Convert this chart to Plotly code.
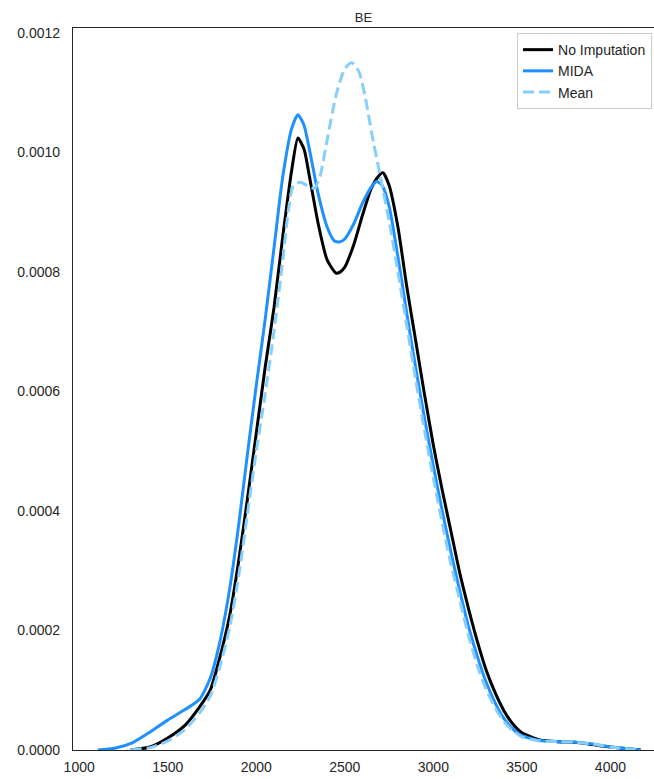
import plotly.graph_objects as go

# ---- data (density values in units of 1e-4) ----
x_none = [1290, 1400, 1500, 1600, 1680, 1740, 1790, 1850, 1900, 1950, 2000, 2050, 2100, 2150, 2200,
          2235, 2270, 2300, 2350, 2400, 2450, 2475, 2500, 2550, 2600, 2650, 2690, 2715, 2750, 2800,
          2850, 2900, 2950, 3000, 3050, 3100, 3150, 3200, 3250, 3300, 3350, 3400, 3450, 3500, 3600,
          3700, 3800, 3900, 4000, 4100, 4170]
y_none = [0, 0.05, 0.2, 0.42, 0.72, 1.0, 1.5, 2.25, 3.15, 4.2, 5.3, 6.4, 7.4, 8.6, 9.7,
          10.24, 10.05, 9.6, 8.8, 8.2, 7.98, 8.0, 8.08, 8.45, 8.95, 9.4, 9.6, 9.66, 9.45, 8.75,
          7.75, 6.85, 5.95, 5.1, 4.35, 3.65, 2.95, 2.35, 1.8, 1.32, 0.95, 0.65, 0.43, 0.29, 0.17,
          0.14, 0.13, 0.09, 0.05, 0.02, 0]

x_mida = [1105, 1200, 1300, 1400, 1500, 1600, 1680, 1740, 1790, 1850, 1900, 1950, 2000, 2050, 2100,
          2150, 2200, 2235, 2270, 2300, 2350, 2400, 2440, 2470, 2500, 2550, 2600, 2650, 2680, 2710,
          2750, 2800, 2850, 2900, 2950, 3000, 3050, 3100, 3150, 3200, 3250, 3300, 3350, 3400, 3450,
          3500, 3600, 3700, 3800, 3900, 4000, 4100, 4170]
y_mida = [0, 0.03, 0.12, 0.3, 0.5, 0.68, 0.85, 1.2, 1.75, 2.7, 3.75, 4.95, 6.1, 7.2, 8.4,
          9.6, 10.4, 10.63, 10.45, 10.05, 9.3, 8.75, 8.52, 8.5, 8.55, 8.8, 9.15, 9.42, 9.51, 9.45,
          9.1, 8.25, 7.3, 6.4, 5.55, 4.75, 4.0, 3.3, 2.65, 2.05, 1.55, 1.12, 0.78, 0.52, 0.35,
          0.24, 0.16, 0.14, 0.13, 0.1, 0.05, 0.02, 0]

x_mean = [1290, 1400, 1500, 1600, 1680, 1740, 1790, 1850, 1900, 1950, 2000, 2050, 2100, 2150, 2180,
          2210, 2250, 2300, 2330, 2360, 2400, 2450, 2500, 2540, 2580, 2620, 2650, 2700, 2750, 2800,
          2850, 2900, 2950, 3000, 3050, 3100, 3150, 3200, 3250, 3300, 3350, 3400, 3450, 3500, 3600,
          3700, 3800, 3900, 4000, 4100, 4170]
y_mean = [0, 0.04, 0.15, 0.35, 0.62, 0.9, 1.35, 2.05, 2.9, 3.95, 5.0, 5.95, 7.0, 8.2, 9.0,
          9.45, 9.5, 9.42, 9.4, 9.6, 10.2, 10.95, 11.4, 11.5, 11.35, 10.85, 10.35, 9.6, 8.85, 8.0,
          7.1, 6.2, 5.35, 4.55, 3.8, 3.1, 2.5, 1.9, 1.4, 1.0, 0.7, 0.47, 0.32, 0.22, 0.15,
          0.14, 0.13, 0.1, 0.05, 0.02, 0]

x_ticks = [1000, 1500, 2000, 2500, 3000, 3500, 4000]
y_ticks = [0, 0.0002, 0.0004, 0.0006, 0.0008, 0.0010, 0.0012]
title_text = "BE"
names = ["No Imputation", "MIDA", "Mean"]

scale = 1e-4
fig = go.Figure()
fig.add_trace(go.Scatter(x=x_none, y=[v * scale for v in y_none], mode="lines", name=names[0],
                         line=dict(color="#000000", width=3, shape="spline", smoothing=0.6)))
fig.add_trace(go.Scatter(x=x_mida, y=[v * scale for v in y_mida], mode="lines", name=names[1],
                         line=dict(color="#1e90ff", width=3, shape="spline", smoothing=0.6)))
fig.add_trace(go.Scatter(x=x_mean, y=[v * scale for v in y_mean], mode="lines", name=names[2],
                         line=dict(color="#87cefa", width=3, dash="11px,5px", shape="spline", smoothing=0.6)))

fam = "Liberation Sans, Arial, sans-serif"
fnt = dict(family=fam, size=14, color="#262626")
fig.update_layout(
    width=654, height=779,
    margin=dict(l=73, r=0, t=28, b=29),
    paper_bgcolor="white", plot_bgcolor="white",
    font=fnt,
    title=dict(text=title_text, x=0.5, xref="paper", xanchor="center",
               y=1 - 17 / 779, yref="container", yanchor="middle",
               font=dict(family=fam, size=13, color="#262626")),
    showlegend=True,
    legend=dict(x=0.9966, xanchor="right", y=0.993, yanchor="top",
                bgcolor="white", bordercolor="#cccccc", borderwidth=1,
                itemwidth=30, tracegroupgap=0,
                font=dict(family=fam, size=14, color="#262626")),
    xaxis=dict(range=[965, 4246], tickvals=x_ticks, showgrid=False, zeroline=False,
               showline=True, linecolor="#262626", linewidth=1.25, mirror=True,
               ticks="outside", ticklen=4, tickcolor="rgba(0,0,0,0)"),
    yaxis=dict(range=[0, 0.001208], tickvals=y_ticks, tickformat=".4f", showgrid=False,
               zeroline=False, showline=True, linecolor="#262626", linewidth=1.25,
               ticks="outside", ticklen=9, tickcolor="rgba(0,0,0,0)"),
)

fig.write_html("out.html", config={"displayModeBar": False},
               post_script="document.body.style.margin='0';document.body.style.overflow='hidden';")
